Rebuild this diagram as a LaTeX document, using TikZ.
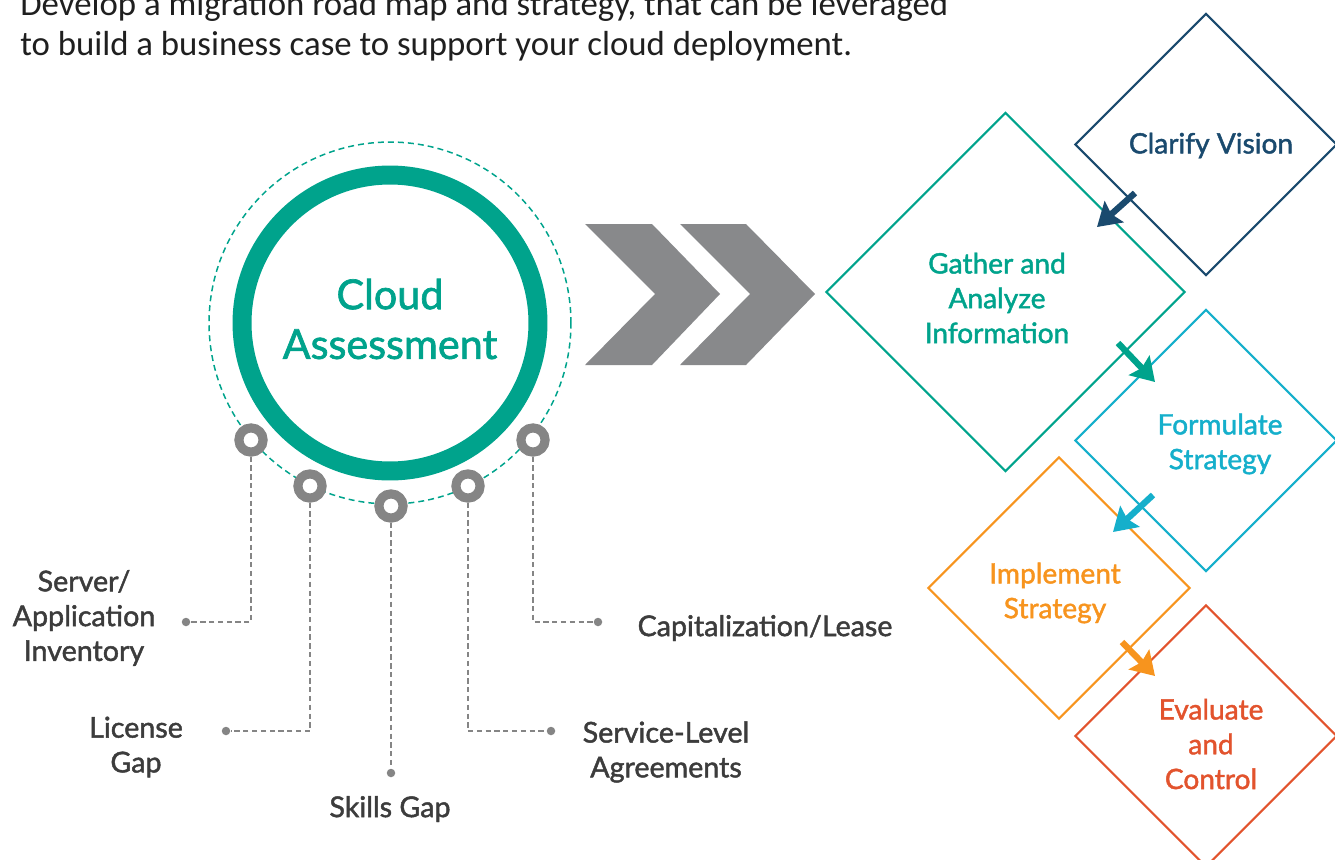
\documentclass[tikz,border=0pt]{standalone}
\usepackage{fontspec}
\setmainfont{Lato}[FakeBold=1.6]
\newfontfamily\introfont{Carlito}
\usetikzlibrary{arrows.meta,shapes.geometric,calc}

\definecolor{cloudteal}{HTML}{00A38C}
\definecolor{visionblue}{HTML}{1A4A6E}
\definecolor{strategycyan}{HTML}{15AFCB}
\definecolor{implorange}{HTML}{F7941E}
\definecolor{evalred}{HTML}{E2532D}
\definecolor{chevgray}{HTML}{88898B}
\definecolor{dotgray}{HTML}{858585}
\definecolor{labelgray}{HTML}{3C3C3C}

\begin{document}
\begin{tikzpicture}[x=0.02cm,y=-0.02cm,>=Stealth,
  stage/.style={diamond,draw=#1,line width=1.2pt,minimum width=5.24cm,minimum height=5.24cm,inner sep=0pt},
  stagetext/.style={text=#1,font=\fontsize{16}{19.8}\selectfont,align=center},
  knob/.style={circle,draw=dotgray,line width=5.2pt,fill=white,minimum size=0.484cm,inner sep=0pt},
  enddot/.style={circle,fill=dotgray,minimum size=0.17cm,inner sep=0pt},
  leader/.style={draw=dotgray,line width=1.1pt,dash pattern=on 3pt off 2pt},
  factor/.style={text=labelgray,font=\fontsize{16.3}{19.8}\selectfont,align=center},
  flowarrow/.style={-{Stealth[length=13pt,width=16pt,inset=2pt]},line width=3.6pt,draw=#1}]

\useasboundingbox (0,0) rectangle (1335,859);

% ---------- Intro text ----------
\node[anchor=base west,align=left,inner sep=0pt,text=black!88,font=\introfont\fontsize{19.8}{22.7}\selectfont] (intro) at (20,55)
  {Develop a migration road map and strategy, that can be leveraged\\to build a business case to support your cloud deployment.};

% ---------- Cloud assessment ring ----------
\draw[cloudteal,line width=0.85pt,dash pattern=on 3.4pt off 2.3pt] (390,323) circle (3.62cm);
\node[circle,draw=cloudteal,line width=10.8pt,minimum size=5.92cm,
  label={[text=cloudteal,font=\fontsize{23.5}{28.3}\selectfont,align=center,yshift=0.08cm]center:Cloud\\Assessment}] (cloud) at (390,323) {};

% knobs on the dashed circle
\node[knob] (k1) at (251,440) {};
\node[knob] (k2) at (310,486) {};
\node[knob] (k3) at (391,506) {};
\node[knob] (k4) at (468,486) {};
\node[knob] (k5) at (533,440) {};

% end dots
\node[enddot] (d1) at (186,622) {};
\node[enddot] (d2) at (226,731) {};
\node[enddot] (d3) at (391,773) {};
\node[enddot] (d4) at (551,731) {};
\node[enddot] (d5) at (598,622) {};

\draw[leader] (k1) |- (d1);
\draw[leader] (k2) |- (d2);
\draw[leader] (k3) -- (d3);
\draw[leader] (k4) |- (d4);
\draw[leader] (k5) |- (d5);

% labels
\node[factor] (l1) at (84,618) {Server/\\Application\\Inventory};
\node[factor] (l2) at (136,747) {License\\Gap};
\node[factor] (l3) at (390,809) {Skills Gap};
\node[factor] (l4) at (666,752) {Service-Level\\Agreements};
\node[factor] (l5) at (765,628) {Capitalization/Lease};

% ---------- Chevrons ----------
\fill[chevgray] (585,224) -- (652,224) -- (720,294) -- (652,365) -- (585,365) -- (655,294) -- cycle;
\fill[chevgray] (680,224) -- (746,224) -- (815,294) -- (746,365) -- (680,365) -- (750,294) -- cycle;

% ---------- Stage diamonds ----------
\node[stage=visionblue,label={[stagetext=visionblue,xshift=0.1cm,yshift=-0.02cm]center:Clarify Vision}] (vision) at (1206,144.5) {};
\node[stage=cloudteal,minimum width=7.18cm,minimum height=7.18cm,
  label={[stagetext=cloudteal,xshift=-0.17cm,yshift=-0.12cm]center:Gather and\\Analyze\\Information}] (gather) at (1005.5,292) {};
\node[stage=strategycyan,label={[stagetext=strategycyan,xshift=0.28cm,yshift=-0.07cm]center:Formulate\\Strategy}] (formulate) at (1206,440.5) {};
\node[stage=implorange,label={[stagetext=implorange,xshift=-0.08cm,yshift=-0.1cm]center:Implement\\Strategy}] (implement) at (1059,588) {};
\node[stage=evalred,label={[stagetext=evalred,xshift=0.1cm,yshift=-0.16cm]center:Evaluate\\and\\Control}] (evaluate) at (1206,736) {};

% ---------- Flow arrows ----------
\coordinate (a1s) at (1135,193);  \coordinate (a1e) at (1097,227);
\coordinate (a2s) at (1118,343);  \coordinate (a2e) at (1155,382);
\coordinate (a3s) at (1153,495);  \coordinate (a3e) at (1113,532);
\coordinate (a4s) at (1122,642);  \coordinate (a4e) at (1155,676);
\draw[flowarrow=visionblue] (a1s) -- (a1e);
\draw[flowarrow=cloudteal] (a2s) -- (a2e);
\draw[flowarrow=strategycyan] (a3s) -- (a3e);
\draw[flowarrow=implorange] (a4s) -- (a4e);

\end{tikzpicture}
\end{document}
